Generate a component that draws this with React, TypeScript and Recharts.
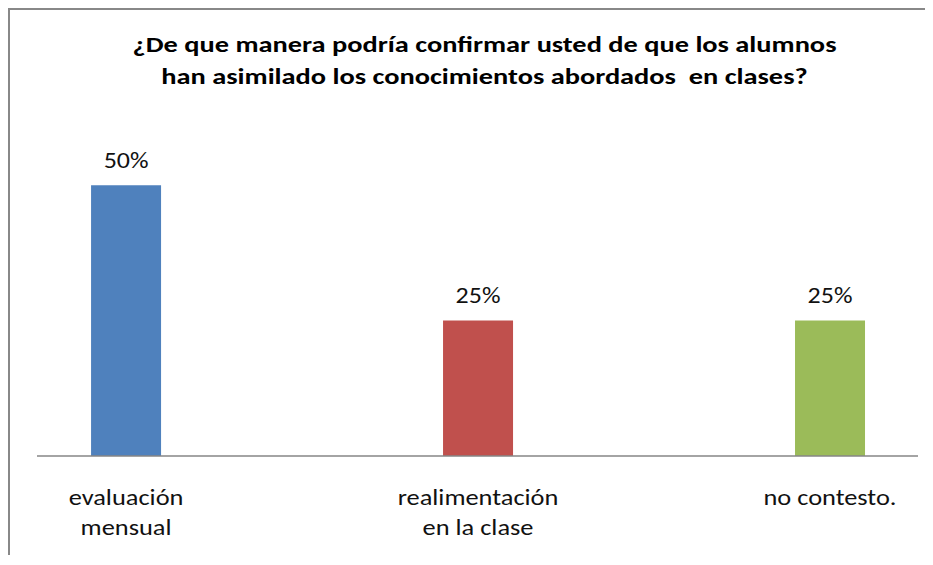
import { BarChart, Bar, XAxis, YAxis, Cell, LabelList } from 'recharts';

const categories = ['evaluación\nmensual', 'realimentación\nen la clase', 'no contesto.'];
const values = [0.5, 0.25, 0.25];
const colors = ['#4F81BD', '#C0504D', '#9BBB59'];
const titleLines = [
  '¿De que manera podría confirmar usted de que los alumnos',
  'han asimilado los conocimientos abordados  en clases?',
];

const data = categories.map((name, i) => ({ idx: i, name, value: values[i] }));

const FONT = "Carlito, 'Liberation Sans Narrow', 'Open Sans', sans-serif";

const CategoryTick = (props: any) => {
  const { x, y, payload } = props;
  const lines = String(categories[payload.value] ?? '').split('\n');
  return (
    <g>
      {lines.map((l, i) => (
        <text
          key={i}
          transform={`translate(${x},${y + 34 + i * 30}) scale(1.2,1)`}
          textAnchor="middle"
          dominantBaseline="central"
          fontFamily={FONT}
          fontSize={22}
          fill="#111"
        >
          {l}
        </text>
      ))}
    </g>
  );
};

const ValueLabel = (props: any) => {
  const { x, y, width, value } = props;
  return (
    <text
      transform={`translate(${x + width / 2},${y - 25}) scale(1.18,1)`}
      textAnchor="middle"
      dominantBaseline="central"
      fontFamily={FONT}
      fontSize={22}
      fill="#111"
    >
      {`${Math.round(Number(value) * 100)}%`}
    </text>
  );
};

export default function App() {
  return (
    <div
      style={{
        position: 'relative',
        width: 923,
        height: 545,
        borderLeft: '2px solid #888',
        borderTop: '2px solid #888',
        background: '#fff',
      }}
    >
      <div
        style={{
          position: 'absolute',
          left: 0,
          width: 949,
          top: 19,
          textAlign: 'center',
          fontFamily: FONT,
          fontWeight: 'bold',
          fontSize: 22,
          lineHeight: '32px',
          color: '#000',
          transform: 'scaleX(1.29)',
          transformOrigin: '474.5px 0',
        }}
      >
        {titleLines.map((t, i) => (
          <div key={i} style={{ whiteSpace: 'pre' }}>{t}</div>
        ))}
      </div>
      <BarChart width={915} height={545} data={data} margin={{ top: 121, right: 7, bottom: 69, left: 27 }}>
        <XAxis
          dataKey="idx"
          type="number"
          height={30}
          domain={[-0.253, 2.25]}
          ticks={[0, 1, 2]}
          tick={<CategoryTick />}
          tickLine={false}
          axisLine={{ stroke: '#868686', strokeWidth: 1.5 }}
          allowDataOverflow
        />
        <YAxis hide domain={[0, 0.6]} />
        <Bar dataKey="value" barSize={70} isAnimationActive={false}>
          {data.map((d, i) => (
            <Cell key={d.name} fill={colors[i]} />
          ))}
          <LabelList dataKey="value" content={<ValueLabel />} />
        </Bar>
      </BarChart>
    </div>
  );
}
